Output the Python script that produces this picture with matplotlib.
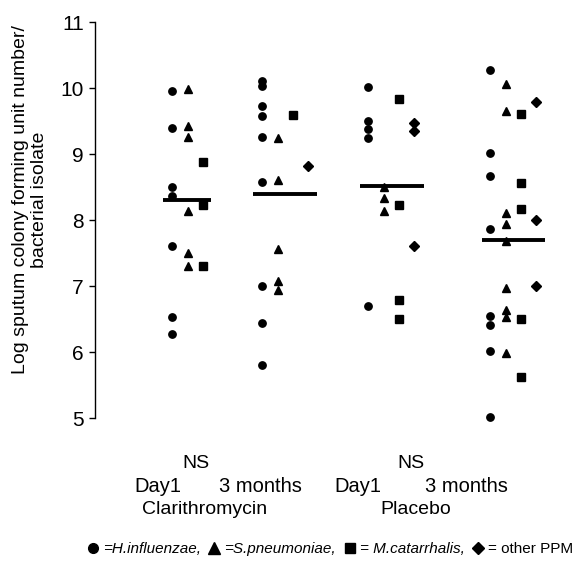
import matplotlib.pyplot as plt
import matplotlib.transforms as mtransforms
from matplotlib.lines import Line2D

plt.rcParams['font.family'] = ['Liberation Sans', 'DejaVu Sans']

# values per group: Clari Day1, Clari 3 months, Placebo Day1, Placebo 3 months
h_influenzae = [
    [9.96, 9.40, 8.50, 8.36, 7.61, 6.53, 6.28],
    [10.11, 10.03, 9.72, 9.58, 9.26, 8.57, 7.00, 6.44, 5.80],
    [10.02, 9.50, 9.38, 9.24, 6.70],
    [10.28, 9.02, 8.67, 7.86, 6.55, 6.41, 6.02, 5.02],
]
s_pneumoniae = [
    [9.98, 9.43, 9.26, 8.13, 7.50, 7.30],
    [9.24, 8.60, 7.56, 7.07, 6.94],
    [8.50, 8.33, 8.14],
    [10.06, 9.65, 8.10, 7.94, 7.68, 6.97, 6.63, 6.53, 5.99],
]
m_catarrhalis = [
    [8.88, 8.22, 7.30],
    [9.59],
    [9.83, 8.23, 6.79, 6.50],
    [9.60, 8.56, 8.16, 6.50, 5.62],
]
other_ppm = [
    [],
    [8.82],
    [9.47, 9.35, 7.61],
    [9.79, 8.00, 7.00],
]
medians = [8.30, 8.39, 8.52, 7.70]
time_labels = ['Day1', '3 months', 'Day1', '3 months']
arm_labels = ['Clarithromycin', 'Placebo']

# layout (x in pixel-like units)
group_x = [172, 262, 368, 490]
offsets = [0, 15.5, 30.5, 46]
median_span = [(163, 211), (253, 317), (360, 424), (482, 545)]

fig = plt.figure(figsize=(5.77, 5.62), dpi=100)
ax = fig.add_axes([95 / 577, 1 - 418 / 562, (570 - 95) / 577, 396 / 562])
ax.set_xlim(95, 570)
ax.set_ylim(5, 11)

series = [
    (h_influenzae, 'o', 5.3),
    (s_pneumoniae, '^', 6.3),
    (m_catarrhalis, 's', 5.3),
    (other_ppm, 'D', 4.6),
]
for k, (vals, mk, ms) in enumerate(series):
    for g, ys in enumerate(vals):
        ax.plot([group_x[g] + offsets[k]] * len(ys), ys, linestyle='none',
                marker=mk, ms=ms, color='black', mec='black', clip_on=False)

for g, m in enumerate(medians):
    x0, x1 = median_span[g]
    ax.plot([x0, x1], [m, m], color='black', lw=2.8, solid_capstyle='butt')

for s in ['top', 'right', 'bottom']:
    ax.spines[s].set_visible(False)
ax.spines['left'].set_linewidth(1.0)
ax.set_xticks([])
ax.set_yticks(range(5, 12))
ax.tick_params(axis='y', length=4, width=1, labelsize=15, pad=4)

trans = mtransforms.blended_transform_factory(ax.transData, ax.transAxes)
for x in [196, 411]:
    ax.text(x, -0.114, 'NS', transform=trans, ha='center', va='center', fontsize=14)
for x, lab in zip([158, 260, 358, 466], time_labels):
    ax.text(x, -0.172, lab, transform=trans, ha='center', va='center', fontsize=14.5)
for x, lab in zip([205, 416], arm_labels):
    ax.text(x, -0.230, lab, transform=trans, ha='center', va='center', fontsize=14)

fig.text(30 / 577, 1 - 200 / 562,
         'Log sputum colony forming unit number/\nbacterial isolate',
         rotation=90, ha='center', va='center', fontsize=14, linespacing=1.1)

handles = [
    Line2D([], [], marker='o', ls='none', color='black', ms=7),
    Line2D([], [], marker='^', ls='none', color='black', ms=8),
    Line2D([], [], marker='s', ls='none', color='black', ms=7),
    Line2D([], [], marker='D', ls='none', color='black', ms=6.5),
]
labels = ['=H.influenzae,', '=S.pneumoniae,', '= M.catarrhalis,', '= other PPM']
leg = fig.legend(handles, labels, loc='center', bbox_to_anchor=(330 / 577, 1 - 549 / 562),
                 ncol=4, frameon=False, fontsize=11, handlelength=0.8,
                 handletextpad=0.25, columnspacing=0.5, borderaxespad=0)
for t in leg.get_texts()[:3]:
    t.set_style('italic')

fig.savefig('out.png', dpi=100)
